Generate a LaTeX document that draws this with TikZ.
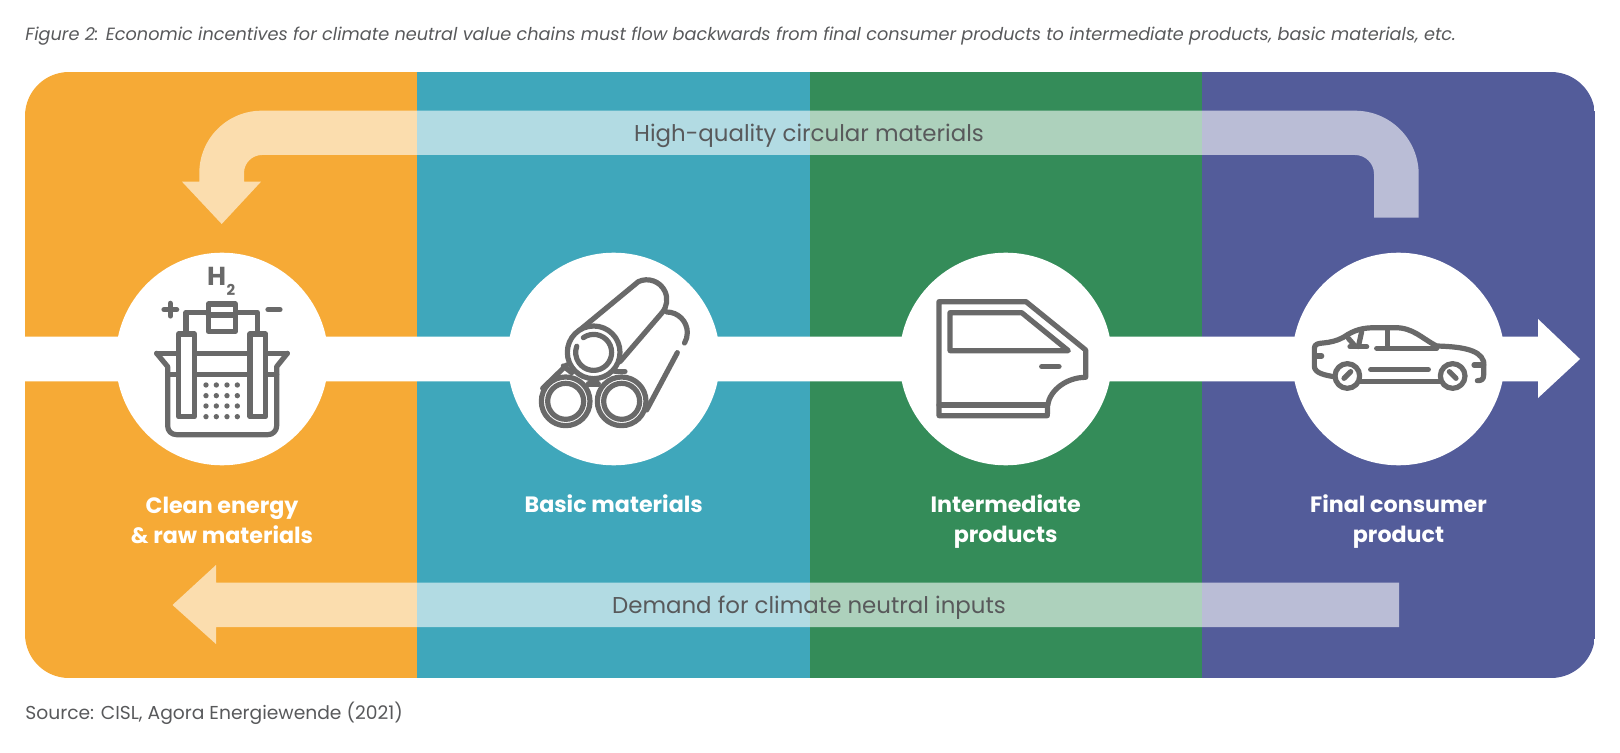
\documentclass[tikz,border=0pt]{standalone}
\usepackage{fontspec}
\setmainfont{Poppins}
\usepackage{tikz}

\definecolor{orangeband}{HTML}{F6AA36}
\definecolor{tealband}{HTML}{3FA7BB}
\definecolor{greenband}{HTML}{348C59}
\definecolor{blueband}{HTML}{535C9A}
\definecolor{icongray}{HTML}{696969}
\definecolor{textgray}{HTML}{58595B}

\tikzset{
    hubnode/.style={circle,fill=white,minimum size=106.3pt,inner sep=0pt},
    stagelabel/.style={white,font=\fontsize{11.1}{15}\selectfont\bfseries,align=center},
    flowlabel/.style={textgray,font=\fontsize{11.45}{14}\selectfont},
    noteslabel/.style={textgray,anchor=west,inner sep=0pt},
    iconline/.style={icongray,line width=5.2pt/2,line cap=round,line join=round},
    flowband/.style={fill=white,fill opacity=0.6}
}

\begin{document}
\begin{tikzpicture}[x=0.5pt,y=-0.5pt]
    \useasboundingbox (0,0) rectangle (1620,753);
    \begin{scope}
        \clip[rounded corners=22pt] (25,72) rectangle (1595,678);
        \foreach \xa/\xb/\band in {25/417/orangeband,417/810/tealband,810/1202/greenband,1202/1595/blueband}
            \fill[\band] (\xa,72) rectangle (\xb,678);
    \end{scope}
    \fill[white] (25,336.7) -- (1538,336.7) -- (1538,319) -- (1580,359) -- (1538,398) -- (1538,381.3) -- (25,381.3) -- cycle;
    \fill[flowband] (1374,217.7) -- (1374,174) arc[start angle=0,end angle=-90,radius=19] -- (262,155) arc[start angle=270,end angle=180,radius=18] -- (244,181.7) -- (261,181.7) -- (221.7,224) -- (182,181.7) -- (199.3,181.7) -- (199.3,173) arc[start angle=180,end angle=270,radius=62.3] -- (1355,110.7) arc[start angle=-90,end angle=0,radius=63.7] -- (1418.7,217.7) -- cycle;
    \fill[flowband] (1399,582.7) -- (216,582.7) -- (216,565) -- (172.5,605) -- (216,644) -- (216,627) -- (1399,627) -- cycle;

    \node (highq) [flowlabel] at (809,136) {High-quality circular materials};
    \node (demand) [flowlabel] at (809,608) {Demand for climate neutral inputs};

    \node (hubenergy) [hubnode] at (222,359) {};
    \node (hubbasic) [hubnode] at (613.7,359) {};
    \node (hubinter) [hubnode] at (1005.7,359) {};
    \node (hubfinal) [hubnode] at (1398.5,359) {};

    \node (energy) [stagelabel] at (222,520) {Clean energy\\\& raw materials};
    \node (basic) [stagelabel] at (613.7,504) {Basic materials};
    \node (inter) [stagelabel] at (1005.7,522) {Intermediate\\products};
    \node (final) [stagelabel] at (1398.5,522) {Final consumer\\product};

    \node (caption) [noteslabel,font=\fontsize{8.85}{10}\selectfont\itshape] at (25,36) {Figure 2: Economic incentives for climate neutral value chains must flow backwards from final consumer products to intermediate products, basic materials, etc.};
    \node (source) [noteslabel,font=\fontsize{9.35}{10}\selectfont] at (25,713) {Source: CISL, Agora Energiewende (2021)};

    \begin{scope}[shift={(100,240)},x=0.5pt/3,y=-0.5pt/3,iconline]
        \draw (170,340) -- (562,340);
        \draw (170,340) -- (203,380) -- (203,558) arc[start angle=180,end angle=90,radius=26] -- (504,584) arc[start angle=90,end angle=0,radius=26] -- (530,380) -- (562,340);
        \draw (203,403) -- (530,403);
        \draw (258,280) -- (258,217) -- (472,217) -- (472,280);
        \draw[fill=white] (325,192) rectangle (406,274);
        \draw (325,225) -- (406,225);
        \foreach \xa in {236,450}
            \draw[fill=white] (\xa,282) rectangle (\xa+47,530);
        \draw (192,209) -- (230,209);
        \draw (211,190) -- (211,228);
        \draw (504,209) -- (540,209);
        \foreach \xa in {318,349,381,412}
            \foreach \ya in {435,467,498,530}
                \fill[icongray] (\xa,\ya) circle (8);
        \node (hydrogen) [icongray,font=\fontsize{13}{13}\selectfont\bfseries] at (350,108) {H};
        \node (hydrogentwo) [icongray,font=\fontsize{7.5}{7.5}\selectfont\bfseries] at (393,150) {2};
    \end{scope}

    \begin{scope}[shift={(500,240)},x=0.5pt/3,y=-0.5pt/3,iconline]
        \draw (532,338) -- (440,510);
        \draw (500,216) arc[start angle=-90,end angle=30,radius=62];
        \draw (128,445) -- (200,375);
        \draw (237,272) -- (415,125) arc[start angle=-115,end angle=40,radius=60] -- (360,365);
        \draw (190,378) -- (215,398);
        \draw (265,432) -- (295,432);
        \draw (345,395) -- (375,395);
        \draw[fill=white] (281,337) circle (79);
        \draw (250,293) arc[start angle=-125,end angle=200,radius=54];
        \foreach \xa in {197,365} {
            \draw[fill=white] (\xa,484) circle (73);
            \draw (\xa,484) circle (54);
        }
    \end{scope}

    \begin{scope}[shift={(890,240)},x=0.5pt/3,y=-0.5pt/3,iconline]
        \draw (147,185) -- (408,185) -- (587,330) -- (587,412) .. controls (530,412) and (480,450) .. (473,495) -- (472,527) -- (147,527) -- cycle;
        \draw (147,495) -- (473,495);
        \draw (180,218) -- (395,218) -- (535,332) -- (180,332) -- cycle;
        \draw (455,380) -- (507,380);
    \end{scope}

    \begin{scope}[shift={(1280,240)},x=0.5pt/3,y=-0.5pt/3,iconline]
        \draw (160,410) .. controls (135,405) and (103,400) .. (103,378) -- (103,325) .. controls (103,312) and (115,310) .. (130,309) .. controls (150,307) and (170,303) .. (190,292) .. controls (225,268) and (250,263) .. (290,263) -- (345,263) .. controls (400,263) and (425,295) .. (470,318) .. controls (530,320) and (600,325) .. (611,365) -- (611,405) .. controls (611,418) and (605,422) .. (592,422);
        \draw (240,425) -- (480,425);
        \draw (272,389) -- (445,389);
        \draw (290,325) -- (470,325);
        \draw (210,320) -- (260,320);
        \draw (322,268) -- (322,325);
        \draw (245,275) -- (235,320);
        \draw (205,295) -- (225,318);
        \draw (105,348) -- (125,348);
        \draw (582,375) -- (611,375);
        \draw[fill=white] (202,408) circle (37);
        \draw[fill=white] (518,408) circle (37);
        \draw (192,415) -- (212,395);
        \draw (508,395) -- (528,415);
    \end{scope}
\end{tikzpicture}
\end{document}
